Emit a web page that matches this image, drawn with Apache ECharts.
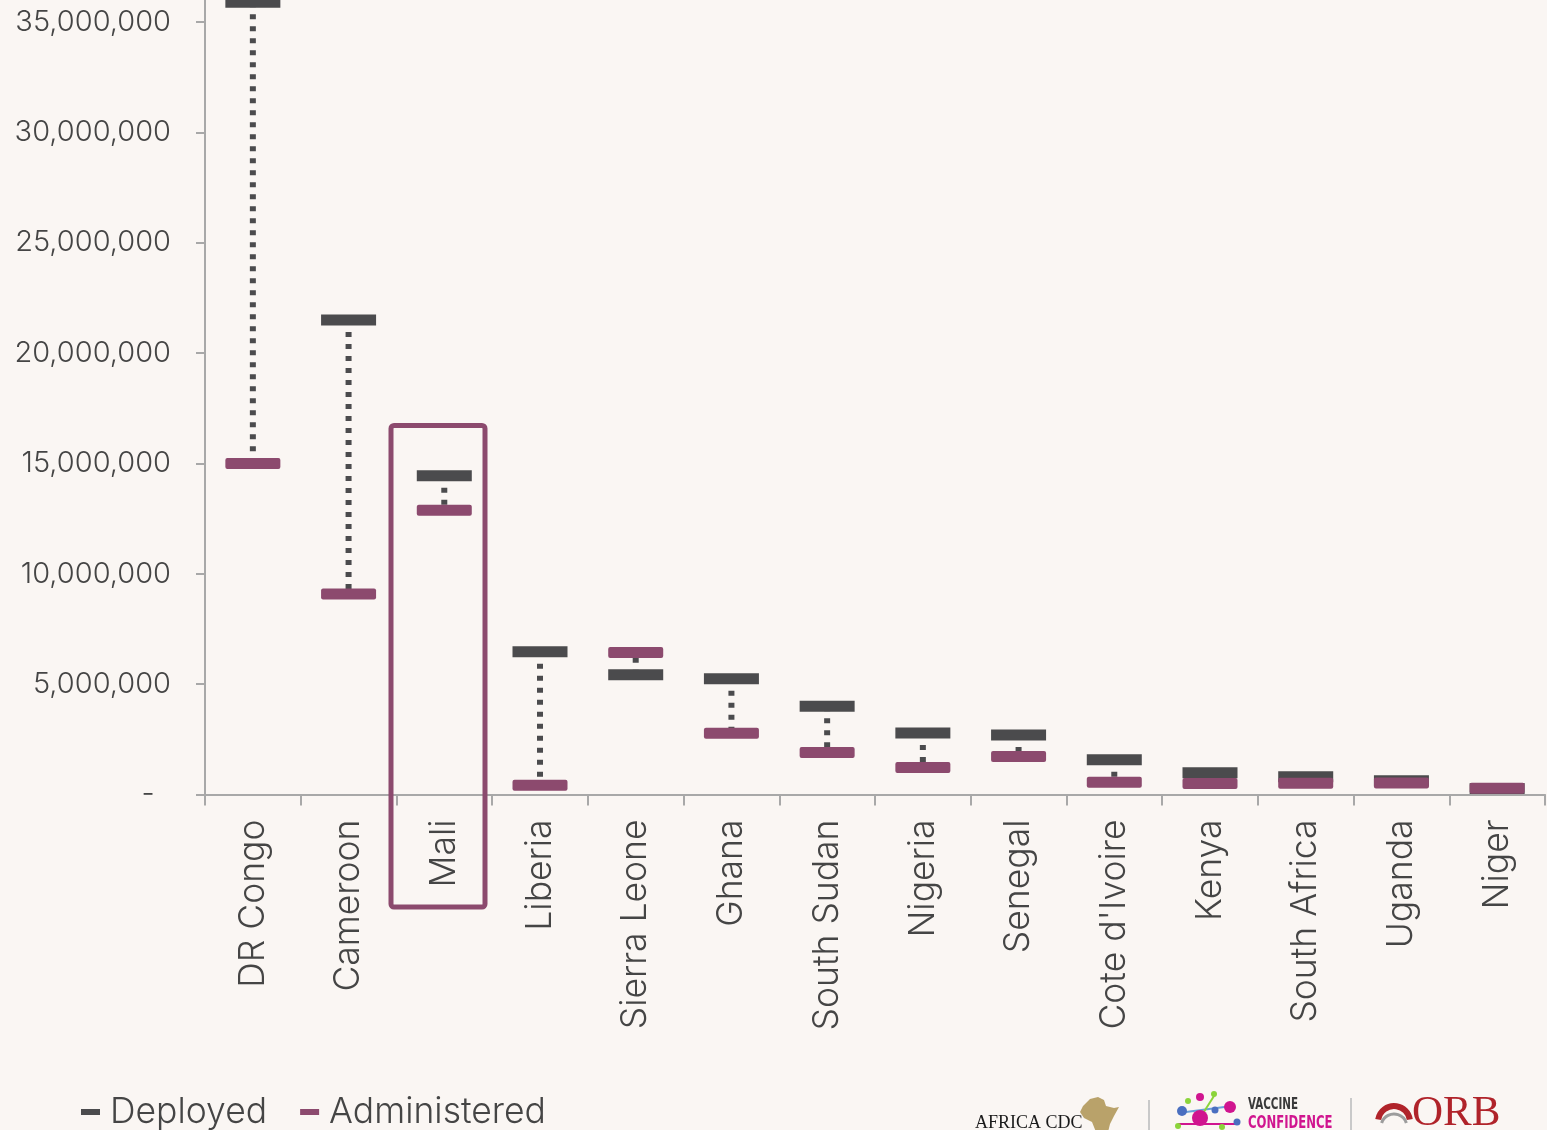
<!DOCTYPE html>
<html>
<head>
<meta charset="utf-8">
<title>Vaccine doses deployed vs administered</title>
<script src="https://cdn.jsdelivr.net/npm/echarts@6/dist/echarts.min.js"></script>
<style>
  html, body { margin: 0; padding: 0; background: #faf6f3; }
  #chart { width: 1547px; height: 1130px; }
</style>
</head>
<body>
<div id="chart"></div>
<script>
// Doses per country
const categories = ['DR Congo', 'Cameroon', 'Mali', 'Liberia', 'Sierra Leone', 'Ghana', 'South Sudan',
  'Nigeria', 'Senegal', "Cote d'Ivoire", 'Kenya', 'South Africa', 'Uganda', 'Niger'];
const deployed = [35900000, 21500000, 14440000, 6470000, 5430000, 5250000, 4000000,
  2790000, 2700000, 1580000, 980000, 800000, 620000, 270000];
const administered = [15000000, 9090000, 12880000, 420000, 6430000, 2780000, 1900000,
  1220000, 1720000, 550000, 500000, 510000, 520000, 280000];

const yMin = 0;
const yMax = 36000000;
const yStep = 5000000;
const yTickValues = [0, 5000000, 10000000, 15000000, 20000000, 25000000, 30000000, 35000000];

const DEPLOYED_COLOR = '#4b4b4d';
const ADMIN_COLOR = '#8c4a6e';
const TEXT_COLOR = '#454545';
const AXIS_COLOR = '#a8a8a8';
const FONT = 'Inter, "Noto Sans", sans-serif';

const chart = echarts.init(document.getElementById('chart'), null, { renderer: 'canvas' });

function fmt(v) {
  if (v === 0) return '-  ';
  return v.toLocaleString('en-US');
}

// Horizontal dash marker centred on a value
function markerRenderer(color, radius) {
  return function (params, api) {
    const p = api.coord([api.value(0), api.value(1)]);
    const w = 55, h = 11;
    return {
      type: 'rect',
      shape: { x: p[0] - w / 2, y: p[1] - h / 2, width: w, height: h, r: radius },
      style: { fill: color }
    };
  };
}

const option = {
  backgroundColor: '#faf6f3',
  animation: false,
  textStyle: { fontFamily: FONT },
  grid: { left: 205, right: 2, top: 0, bottom: 335.5, containLabel: false },
  legend: {
    left: 76,
    top: 1088,
    itemWidth: 19,
    itemHeight: 6,
    itemGap: 33,
    icon: 'rect',
    textStyle: { fontSize: 35.5, color: TEXT_COLOR, fontFamily: FONT, fontWeight: 300, padding: [0, 0, 0, 5], lineHeight: 38 },
    data: [
      { name: 'Deployed', itemStyle: { color: DEPLOYED_COLOR } },
      { name: 'Administered', itemStyle: { color: ADMIN_COLOR } }
    ]
  },
  xAxis: {
    type: 'category',
    data: categories,
    boundaryGap: true,
    axisLine: { show: true, lineStyle: { color: AXIS_COLOR, width: 2 } },
    axisTick: { show: true, alignWithLabel: false, length: 11, lineStyle: { color: AXIS_COLOR, width: 2 } },
    axisLabel: {
      rotate: 90,
      interval: 0,
      margin: 25,
      fontSize: 35.5,
      fontWeight: 300,
      color: TEXT_COLOR,
      fontFamily: FONT
    },
    splitLine: { show: false }
  },
  yAxis: {
    type: 'value',
    min: yMin,
    max: yMax,
    interval: yStep,
    axisLine: { show: true, lineStyle: { color: AXIS_COLOR, width: 2 } },
    axisTick: {
      show: true, length: 9, lineStyle: { color: AXIS_COLOR, width: 2 },
      customValues: yTickValues
    },
    axisLabel: {
      margin: 34,
      fontSize: 29,
      fontWeight: 300,
      color: TEXT_COLOR,
      fontFamily: FONT,
      formatter: function (v) { return v % yStep === 0 ? fmt(v) : ''; }
    },
    splitLine: { show: false }
  },
  series: [
    {
      // dotted connector between the two markers
      name: 'gap',
      type: 'custom',
      silent: true,
      data: categories.map((c, i) => [i, deployed[i], administered[i]]),
      renderItem: function (params, api) {
        const a = api.coord([api.value(0), api.value(1)]);
        const b = api.coord([api.value(0), api.value(2)]);
        return {
          type: 'line',
          shape: { x1: a[0], y1: a[1], x2: b[0], y2: b[1] },
          style: { stroke: DEPLOYED_COLOR, lineWidth: 6, lineDash: [5, 7], lineCap: 'butt' }
        };
      },
      z: 1
    },
    {
      name: 'Deployed',
      type: 'custom',
      itemStyle: { color: DEPLOYED_COLOR },
      data: categories.map((c, i) => [i, deployed[i]]),
      renderItem: markerRenderer(DEPLOYED_COLOR, 0),
      z: 2
    },
    {
      name: 'Administered',
      type: 'custom',
      itemStyle: { color: ADMIN_COLOR },
      data: categories.map((c, i) => [i, administered[i]]),
      renderItem: markerRenderer(ADMIN_COLOR, 2),
      z: 3
    }
  ],
  graphic: [
    // highlight frame around Mali
    {
      type: 'rect',
      z: 10,
      shape: { x: 391, y: 425.5, width: 94, height: 481.5, r: 3 },
      style: { fill: 'none', stroke: ADMIN_COLOR, lineWidth: 5 }
    },
    // partner logos
    {
      type: 'group',
      z: 10,
      children: [
        { type: 'text', style: { x: 975, y: 1132, text: 'AFRICA CDC', font: '18px "Liberation Serif", serif', fill: '#1a1a1a', textVerticalAlign: 'bottom' } },
        {
          type: 'polygon',
          shape: { points: [[1083, 1106], [1090, 1099], [1098, 1097], [1104, 1100], [1106, 1106], [1114, 1108], [1119, 1107], [1114, 1116], [1110, 1124], [1108, 1132], [1096, 1132], [1092, 1122], [1084, 1118], [1080, 1112]] },
          style: { fill: '#b9a26a' }
        },
        { type: 'line', shape: { x1: 1149, y1: 1100, x2: 1149, y2: 1130 }, style: { stroke: '#c9c9c9', lineWidth: 2 } },
        // molecule mark
        { type: 'line', shape: { x1: 1186, y1: 1112, x2: 1232, y2: 1106 }, style: { stroke: '#6aa0d8', lineWidth: 2 } },
        { type: 'line', shape: { x1: 1200, y1: 1118, x2: 1214, y2: 1096 }, style: { stroke: '#8bd43a', lineWidth: 2 } },
        { type: 'line', shape: { x1: 1178, y1: 1124, x2: 1238, y2: 1124 }, style: { stroke: '#d0158f', lineWidth: 2 } },
        { type: 'circle', shape: { cx: 1200, cy: 1118, r: 8 }, style: { fill: '#d0158f' } },
        { type: 'circle', shape: { cx: 1182, cy: 1111, r: 5 }, style: { fill: '#4a6fc0' } },
        { type: 'circle', shape: { cx: 1200, cy: 1097, r: 4 }, style: { fill: '#d0158f' } },
        { type: 'circle', shape: { cx: 1214, cy: 1094, r: 3 }, style: { fill: '#8bd43a' } },
        { type: 'circle', shape: { cx: 1230, cy: 1107, r: 6 }, style: { fill: '#d0158f' } },
        { type: 'circle', shape: { cx: 1188, cy: 1101, r: 3 }, style: { fill: '#8bd43a' } },
        { type: 'circle', shape: { cx: 1215, cy: 1110, r: 3.5 }, style: { fill: '#4a6fc0' } },
        { type: 'circle', shape: { cx: 1237, cy: 1122, r: 3.5 }, style: { fill: '#4a6fc0' } },
        { type: 'circle', shape: { cx: 1178, cy: 1126, r: 3 }, style: { fill: '#8bd43a' } },
        { type: 'circle', shape: { cx: 1222, cy: 1127, r: 3 }, style: { fill: '#8bd43a' } },
        {
          type: 'group', x: 1248, y: 0, scaleX: 0.72,
          children: [
            { type: 'text', style: { x: 0, y: 1097, text: 'VACCINE', font: 'bold 16px "DejaVu Sans Condensed", "Liberation Sans Narrow", sans-serif', fill: '#3a3a3a' } },
            { type: 'text', style: { x: 0, y: 1114, text: 'CONFIDENCE', font: 'bold 18px "DejaVu Sans Condensed", "Liberation Sans Narrow", sans-serif', fill: '#d0158f' } }
          ]
        },
        { type: 'line', shape: { x1: 1351, y1: 1098, x2: 1351, y2: 1130 }, style: { stroke: '#c9c9c9', lineWidth: 2 } },
        // ORB mark
        { type: 'arc', shape: { cx: 1394, cy: 1122, r: 16, startAngle: Math.PI * 1.05, endAngle: Math.PI * 1.95 }, style: { stroke: '#b0232a', lineWidth: 6, fill: 'none' } },
        { type: 'arc', shape: { cx: 1394, cy: 1127, r: 13, startAngle: Math.PI * 1.1, endAngle: Math.PI * 1.9 }, style: { stroke: '#9c9c9c', lineWidth: 3, fill: 'none' } },
        { type: 'text', style: { x: 1412, y: 1135, text: 'ORB', font: '43px "Liberation Serif", serif', fill: '#b0232a', textVerticalAlign: 'bottom' } }
      ]
    }
  ]
};

chart.setOption(option);
</script>
</body>
</html>
